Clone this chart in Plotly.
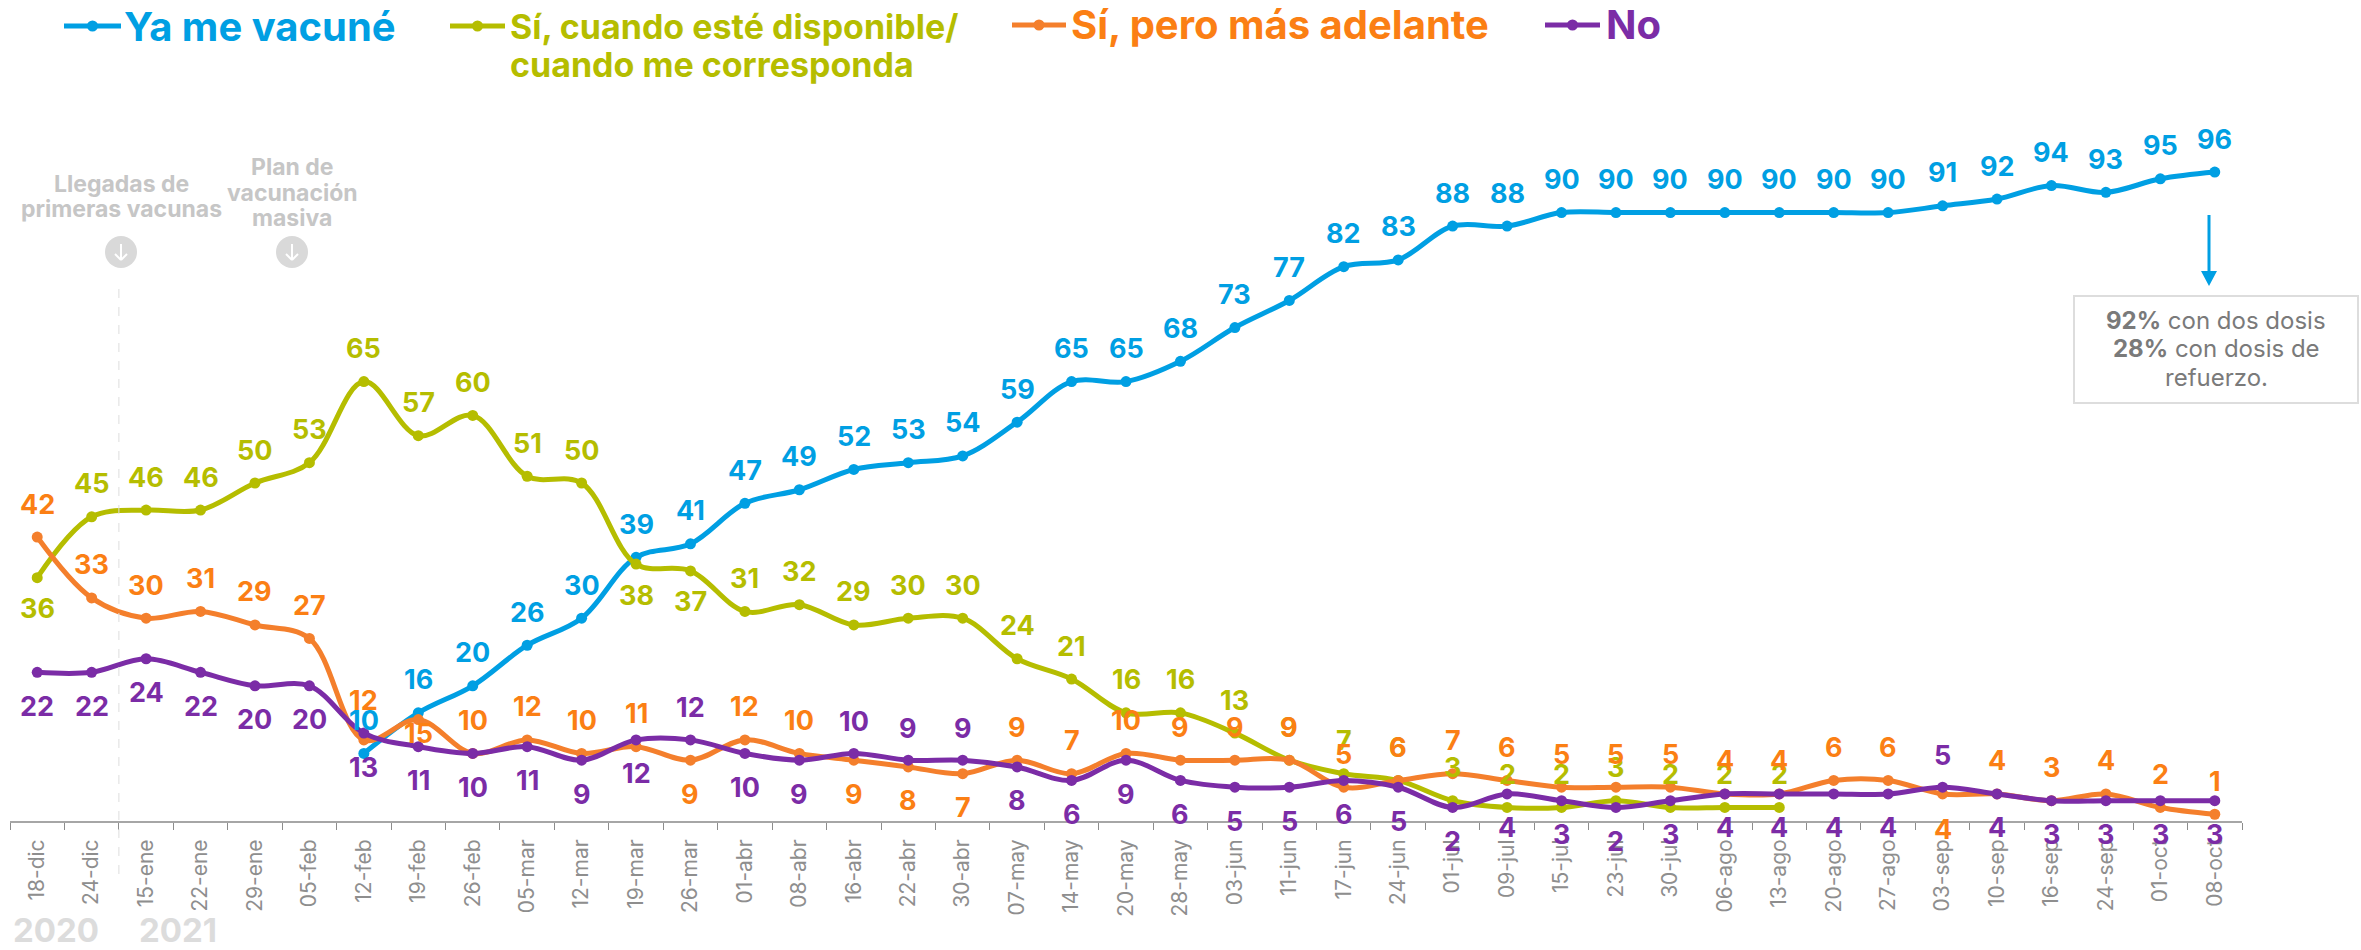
import plotly.graph_objects as go

categories = ["18-dic","24-dic","15-ene","22-ene","29-ene","05-feb","12-feb","19-feb","26-feb","05-mar","12-mar","19-mar","26-mar","01-abr","08-abr","16-abr","22-abr","30-abr","07-may","14-may","20-may","28-may","03-jun","11-jun","17-jun","24-jun","01-jul","09-jul","15-jul","23-jul","30-jul","06-ago","13-ago","20-ago","27-ago","03-sep","10-sep","16-sep","24-sep","01-oct","08-oct"]
ya_me_vacune = [None]*6 + [10,16,20,26,30,39,41,47,49,52,53,54,59,65,65,68,73,77,82,83,88,88,90,90,90,90,90,90,90,91,92,94,93,95,96]
si_disponible = [36,45,46,46,50,53,65,57,60,51,50,38,37,31,32,29,30,30,24,21,16,16,13,9,7,6,3,2,2,3,2,2,2] + [None]*8
si_adelante = [42,33,30,31,29,27,12,15,10,12,10,11,9,12,10,9,8,7,9,7,10,9,9,9,5,6,7,6,5,5,5,4,4,6,6,4,4,3,4,2,1]
no = [22,22,24,22,20,20,13,11,10,11,9,12,12,10,9,10,9,9,8,6,9,6,5,5,6,5,2,4,3,2,3,4,4,4,4,5,4,3,3,3,3]

BLUE, GREEN, ORANGE, PURPLE = "#009FE3", "#B5BD00", "#FB7F14", "#7B2CA6"
ORANGE_LINE = "#F47F2C"
W, H = 2361, 950
L, R, AXIS_Y = 10, 2242, 821
FONT = "Inter"

def px(x): return (x - L) / (R - L)
def py(y): return (AXIS_Y - y) / AXIS_Y

# yshift of each value label, in screen pixels (positive = upward), default first then exceptions
series = [
    ("Ya me vacuné", ya_me_vacune, BLUE, BLUE, 33, {}),
    ("Sí, cuando esté disponible/ cuando me corresponda", si_disponible, GREEN, GREEN, 33, {0: -31, 11: -31, 12: -31}),
    ("Sí, pero más adelante", si_adelante, ORANGE_LINE, ORANGE, 33,
     {12: -34, 15: -34, 16: -34, 17: -34, 35: -36, 7: -14, 6: 39}),
    ("No", no, PURPLE, PURPLE, -34, {12: 32, 15: 32, 16: 32, 17: 32, 35: 32}),
]

fig = go.Figure()
annotations = []
for name, vals, col, tcol, default, exceptions in series:
    fig.add_trace(go.Scatter(x=categories, y=vals, name=name, mode="lines+markers",
                             line=dict(color=col, width=5, shape="spline", smoothing=1.0),
                             marker=dict(color=col, size=11), showlegend=False, cliponaxis=False))
for name, vals, col, tcol, default, exceptions in series:
    for i, v in enumerate(vals):
        if v is None:
            continue
        annotations.append(dict(x=categories[i], y=v, xref="x", yref="y", text=f"<b>{v}</b>", showarrow=False,
                                yshift=exceptions.get(i, default), font=dict(family=FONT, size=27, color=tcol)))

def label(x, y, text, size, color, anchor="center"):
    annotations.append(dict(x=px(x), y=py(y), xref="paper", yref="paper", text=text, showarrow=False,
                            xanchor=anchor, yanchor="middle", align=anchor, font=dict(family=FONT, size=size, color=color)))

label(122, 26, "<b>Ya me vacuné</b>", 40, BLUE, "left")
label(508, 26, "<b>Sí, cuando esté disponible/</b>", 34, GREEN, "left")
label(508, 65, "<b>cuando me corresponda</b>", 34, GREEN, "left")
label(1069, 25, "<b>Sí, pero más adelante</b>", 40, ORANGE, "left")
label(1604, 25, "<b>No</b>", 40, PURPLE, "left")
label(121, 184, "<b>Llegadas de</b>", 23, "#C6C6C6")
label(121, 209, "<b>primeras vacunas</b>", 23, "#C6C6C6")
label(292, 167, "<b>Plan de</b>", 23, "#C6C6C6")
label(292, 193, "<b>vacunación</b>", 23, "#C6C6C6")
label(292, 218, "<b>masiva</b>", 23, "#C6C6C6")
label(56, 930, "<b>2020</b>", 33, "#DCDCDC")
label(178, 930, "<b>2021</b>", 33, "#DCDCDC")
label(2216, 320, "<b>92%</b> con dos dosis", 24, "#7A7A7A")
label(2216, 348, "<b>28%</b> con dosis de", 24, "#7A7A7A")
label(2216, 377, "refuerzo.", 24, "#7A7A7A")

shapes = []
def pshape(**kw):
    shapes.append(dict(xref="paper", yref="paper", **kw))

# legend keys
for x0, x1, y, col in [(64, 121, 26, BLUE), (450, 505, 26, GREEN), (1012, 1066, 25, ORANGE_LINE), (1545, 1600, 25, PURPLE)]:
    pshape(type="line", x0=px(x0), x1=px(x1), y0=py(y), y1=py(y), line=dict(color=col, width=5))
    c = (x0 + x1) / 2
    pshape(type="circle", x0=px(c - 5.5), x1=px(c + 5.5), y0=py(y - 5.5), y1=py(y + 5.5), fillcolor=col, line=dict(width=0))

# grey circles with arrows
for c in (121, 292):
    pshape(type="circle", x0=px(c - 16), x1=px(c + 16), y0=py(236), y1=py(268), fillcolor="#D9D9D9", line=dict(width=0))
    pshape(type="line", x0=px(c), x1=px(c), y0=py(244), y1=py(260), line=dict(color="white", width=2))
    pshape(type="line", x0=px(c - 6), x1=px(c), y0=py(254), y1=py(260), line=dict(color="white", width=2))
    pshape(type="line", x0=px(c + 6), x1=px(c), y0=py(254), y1=py(260), line=dict(color="white", width=2))

# year divider
shapes.append(dict(type="line", xref="x", yref="paper", x0=1.5, x1=1.5, y0=py(289), y1=py(880),
                   line=dict(color="#DDDDDD", width=1, dash="dash")))

# callout
pshape(type="line", x0=px(2209), x1=px(2209), y0=py(215), y1=py(272), line=dict(color=BLUE, width=3))
pshape(type="path", path=f"M {px(2201)} {py(271)} L {px(2217)} {py(271)} L {px(2209)} {py(286)} Z", fillcolor=BLUE, line=dict(width=0))
pshape(type="rect", x0=px(2074), x1=px(2358), y0=py(296), y1=py(403), line=dict(color="#DDDDDD", width=2), fillcolor="rgba(0,0,0,0)")

fig.update_layout(
    width=W, height=H, paper_bgcolor="white", plot_bgcolor="white", showlegend=False,
    margin=dict(l=L, r=W - R, t=0, b=H - AXIS_Y, autoexpand=False),
    annotations=annotations, shapes=shapes,
    xaxis=dict(type="category", categoryorder="array", categoryarray=categories, tickmode="array",
               tickvals=categories, ticktext=categories, tickangle=-90, tickson="boundaries",
               range=[-0.5, len(categories) - 0.5], showgrid=False, zeroline=False,
               showline=True, linecolor="#A6A6A6", linewidth=2, ticks="outside", ticklen=7, tickcolor="#8C8C8C",
               tickwidth=1, ticklabelstandoff=8, tickfont=dict(family=FONT, size=21, color="#8E8E8E")),
    yaxis=dict(range=[0, AXIS_Y / 6.76], visible=False, showgrid=False, zeroline=False),
    hovermode=False,
)
fig.write_html("out.html", config={"displayModeBar": False},
               post_script="document.body.style.margin='0';document.body.style.overflow='hidden';")
